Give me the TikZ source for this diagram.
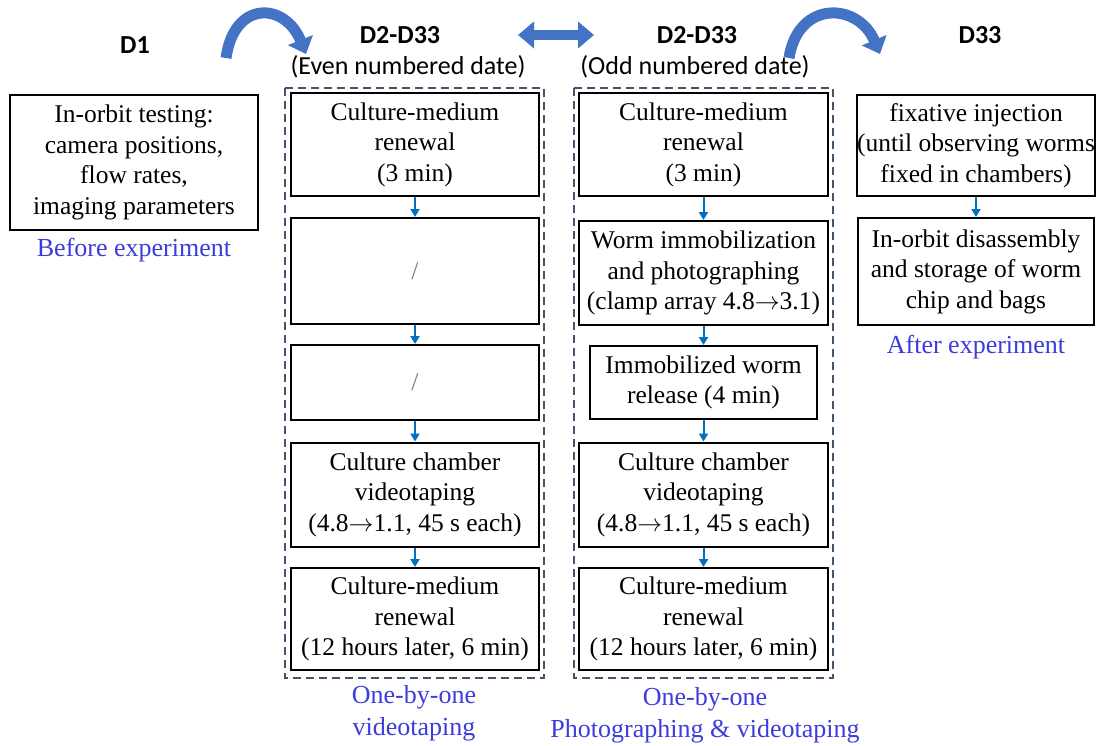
\documentclass[tikz,border=0pt]{standalone}
\usepackage{fontspec}
\setmainfont{LiberationSerif}[Extension=.ttf,UprightFont=*-Regular,BoldFont=*-Bold,ItalicFont=*-Italic]
\newfontfamily\hdfont{Carlito}
\usetikzlibrary{arrows.meta}
\definecolor{arrowblue}{RGB}{68,114,196}
\definecolor{linkblue}{RGB}{0,112,192}
\definecolor{dashcol}{RGB}{68,84,106}
\definecolor{labblue}{RGB}{60,60,220}
\tikzset{
  stepbox/.style={draw=black,line width=2pt,fill=white,inner sep=0pt,align=center,
    font=\fontsize{25.5}{30.5}\selectfont},
  group/.style={draw=dashcol,line width=2pt,dash pattern=on 8pt off 5pt},
  link/.style={draw=linkblue,line width=2pt,-{Triangle[width=9pt,length=8pt]}},
  hd/.style={font=\hdfont\bfseries\fontsize{26}{30}\selectfont},
  sub/.style={font=\hdfont\fontsize{26}{30}\selectfont},
  lab/.style={text=labblue,align=center,font=\fontsize{26}{32}\selectfont},
  bigarrow/.style={draw=arrowblue,line width=11pt,-{Triangle[width=26pt,length=15pt]}},
}
\begin{document}
\begin{tikzpicture}[x=1pt,y=-1pt]
\useasboundingbox (0,0) rectangle (1103,745);
% headers
\node[hd] (h1) at (135,45) {D1};
\node[hd] (h2) at (400,35) {D2-D33};
\node[sub] (s2) at (408,67) {(Even numbered date)};
\node[hd] (h3) at (697,35) {D2-D33};
\node[sub] (s3) at (695,67) {(Odd numbered date)};
\node[hd] (h4) at (980,35) {D33};
% big arrows
\coordinate (a1s) at (226,58);
\coordinate (a1e) at (306,54);
\draw[bigarrow] (a1s) .. controls (234,0) and (285,2) .. (a1e);
\coordinate (a2s) at (789,58);
\coordinate (a2e) at (880,54);
\draw[bigarrow] (a2s) .. controls (798,0) and (858,2) .. (a2e);
\coordinate (da) at (518,35);
\coordinate (db) at (594,35);
\draw[draw=arrowblue,line width=10pt,{Triangle[width=26pt,length=16pt]}-{Triangle[width=26pt,length=16pt]}] (da) -- (db);
% dashed groups
\draw[group] (285,88) rectangle (544,678);
\draw[group] (574,88) rectangle (833,678);
% left box
\node[stepbox,minimum width=248pt,minimum height=135pt] (L) at (134,162.5)
  {In-orbit testing:\\camera positions,\\flow rates,\\imaging parameters};
\node[lab] (Llab) at (134,250) {Before experiment};
% column 1
\node[stepbox,minimum width=248pt,minimum height=103pt] (b1) at (415,144.5) {Culture-medium\\renewal\\(3 min)};
\node[stepbox,minimum width=248pt,minimum height=106pt,text=gray] (b2) at (415,271) {/};
\node[stepbox,minimum width=248pt,minimum height=75pt,text=gray] (b3) at (415,382.5) {/};
\node[stepbox,minimum width=248pt,minimum height=104pt] (b4) at (415,494.5) {Culture chamber\\videotaping\\(4.8$\rightarrow$1.1, 45 s each)};
\node[stepbox,minimum width=248pt,minimum height=102pt] (b5) at (415,619) {Culture-medium\\renewal\\(12 hours later, 6 min)};
\draw[link] (b1) -- (b2);
\draw[link] (b2) -- (b3);
\draw[link] (b3) -- (b4);
\draw[link] (b4) -- (b5);
\node[lab] (blab) at (414,713) {One-by-one\\videotaping};
% column 2
\node[stepbox,minimum width=249pt,minimum height=103pt] (c1) at (703.5,144.5) {Culture-medium\\renewal\\(3 min)};
\node[stepbox,minimum width=249pt,minimum height=104pt] (c2) at (703.5,273) {Worm immobilization\\and photographing\\(clamp array 4.8$\rightarrow$3.1)};
\node[stepbox,minimum width=227pt,minimum height=73pt] (c3) at (703.5,382.5) {Immobilized worm\\release (4 min)};
\node[stepbox,minimum width=249pt,minimum height=104pt] (c4) at (703.5,494.5) {Culture chamber\\videotaping\\(4.8$\rightarrow$1.1, 45 s each)};
\node[stepbox,minimum width=249pt,minimum height=102pt] (c5) at (703.5,619) {Culture-medium\\renewal\\(12 hours later, 6 min)};
\draw[link] (c1) -- (c2);
\draw[link] (c2) -- (c3);
\draw[link] (c3) -- (c4);
\draw[link] (c4) -- (c5);
\node[lab] (clab) at (705,715) {One-by-one\\Photographing \& videotaping};
% right column
\node[stepbox,minimum width=236pt,minimum height=101pt] (r1) at (976,145.5) {fixative injection\\(until observing worms\\fixed in chambers)};
\node[stepbox,minimum width=236pt,minimum height=107pt] (r2) at (976,271.5) {In-orbit disassembly\\and storage of worm\\chip and bags};
\draw[link] (r1) -- (r2);
\node[lab] (rlab) at (976,347) {After experiment};
\end{tikzpicture}
\end{document}
